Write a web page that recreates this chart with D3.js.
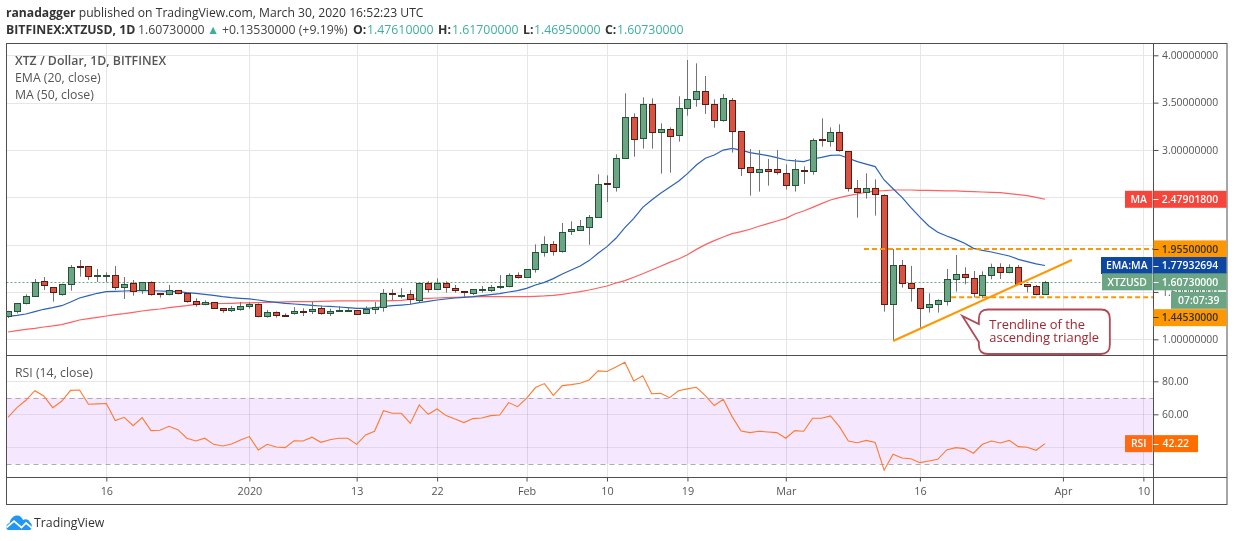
<!DOCTYPE html>
<html>
<head>
<meta charset="utf-8">
<script src="https://cdn.jsdelivr.net/npm/d3@7"></script>
<style>
html, body { margin: 0; padding: 0; background: #fff; }
svg { display: block; font-family: "Open Sans", sans-serif; }
</style>
</head>
<body>
<div id="chart"></div>
<script>
// candles, one per day from 5 Dec 2019
const firstDay = Date.UTC(2019, 11, 5);
const opens = [
  1.239,1.295,1.376,1.454,1.612,1.549,1.475,1.581,1.774,1.771,
  1.672,1.672,1.676,1.549,1.591,1.517,1.602,1.486,1.475,1.517,
  1.486,1.401,1.369,1.391,1.327,1.306,1.317,1.348,1.369,1.243,
  1.285,1.257,1.274,1.299,1.295,1.327,1.274,1.295,1.295,1.306,
  1.274,1.317,1.338,1.486,1.466,1.475,1.408,1.591,1.528,1.591,
  1.538,1.507,1.486,1.528,1.517,1.549,1.560,1.676,1.655,1.739,
  1.919,2.003,1.929,2.141,2.151,2.183,2.288,2.648,2.605,2.912,
  3.345,3.123,3.482,3.186,3.218,3.155,3.440,3.535,3.619,3.482,
  3.310,3.524,3.197,2.817,2.764,2.795,2.795,2.753,2.626,2.785,
  2.774,3.112,3.091,3.186,2.986,2.595,2.553,2.595,2.521,1.370,
  1.782,1.591,1.539,1.334,1.370,1.401,1.634,1.687,1.644,1.465,
  1.676,1.760,1.708,1.760,1.581,1.560,1.4761];
const highs = [
  1.300,1.380,1.475,1.637,1.658,1.549,1.588,1.785,1.838,1.771,
  1.743,1.707,1.774,1.658,1.626,1.602,1.612,1.486,1.574,1.517,
  1.493,1.433,1.412,1.391,1.327,1.352,1.394,1.391,1.380,1.310,
  1.295,1.274,1.341,1.327,1.394,1.359,1.324,1.352,1.341,1.306,
  1.348,1.394,1.531,1.528,1.540,1.521,1.591,1.612,1.644,1.612,
  1.574,1.507,1.528,1.563,1.574,1.679,1.697,1.707,1.739,2.003,
  2.088,2.038,2.229,2.246,2.260,2.313,2.743,2.732,2.954,3.598,
  3.387,3.556,3.545,3.281,3.239,3.567,3.950,3.915,3.781,3.535,
  3.591,3.549,3.197,3.010,2.999,2.905,2.999,2.848,2.905,2.827,
  3.123,3.334,3.239,3.271,2.986,2.683,2.753,2.690,2.532,1.954,
  1.838,1.775,1.539,1.486,1.422,1.743,1.891,1.760,1.722,1.718,
  1.799,1.803,1.792,1.785,1.581,1.574,1.617];
const lows = [
  1.225,1.274,1.369,1.450,1.521,1.398,1.461,1.514,1.662,1.626,
  1.605,1.605,1.521,1.426,1.461,1.479,1.461,1.440,1.464,1.475,
  1.387,1.345,1.359,1.324,1.281,1.288,1.303,1.324,1.232,1.229,
  1.229,1.239,1.260,1.246,1.267,1.260,1.246,1.295,1.295,1.260,
  1.271,1.267,1.292,1.415,1.433,1.362,1.391,1.493,1.528,1.493,
  1.493,1.443,1.468,1.493,1.500,1.531,1.549,1.641,1.655,1.704,
  1.873,1.884,1.915,2.102,2.151,1.999,2.288,2.450,2.560,2.912,
  2.929,3.014,3.014,2.750,2.760,3.088,3.362,3.457,3.380,3.236,
  3.299,2.972,2.725,2.517,2.560,2.623,2.739,2.581,2.560,2.641,
  2.739,3.035,3.035,2.982,2.560,2.285,2.486,2.306,1.292,0.993,
  1.546,1.398,1.116,1.282,1.282,1.356,1.503,1.581,1.444,1.433,
  1.634,1.637,1.697,1.574,1.496,1.465,1.4695];
const closes = [
  1.295,1.380,1.454,1.602,1.570,1.496,1.581,1.760,1.767,1.665,
  1.679,1.679,1.549,1.581,1.507,1.602,1.475,1.472,1.517,1.486,
  1.401,1.369,1.391,1.327,1.306,1.327,1.348,1.369,1.243,1.285,
  1.253,1.250,1.295,1.292,1.317,1.274,1.295,1.306,1.306,1.264,
  1.317,1.338,1.486,1.475,1.473,1.422,1.591,1.528,1.591,1.549,
  1.517,1.493,1.528,1.535,1.549,1.560,1.676,1.655,1.739,1.919,
  2.003,1.929,2.130,2.162,2.193,2.288,2.637,2.634,2.912,3.345,
  3.112,3.482,3.186,3.218,3.144,3.440,3.535,3.619,3.482,3.310,
  3.545,3.197,2.806,2.764,2.795,2.774,2.764,2.626,2.795,2.774,
  3.102,3.102,3.186,2.993,2.595,2.553,2.595,2.532,1.370,1.782,
  1.591,1.539,1.327,1.370,1.412,1.634,1.687,1.655,1.486,1.676,
  1.760,1.708,1.760,1.581,1.560,1.472,1.6073];

const emaValues = [
  1.243,1.253,1.267,1.292,1.317,1.334,1.355,1.394,1.436,1.461,
  1.486,1.503,1.507,1.510,1.514,1.514,1.514,1.510,1.507,1.503,
  1.493,1.486,1.475,1.464,1.450,1.440,1.433,1.426,1.415,1.401,
  1.391,1.380,1.373,1.366,1.359,1.352,1.348,1.341,1.334,1.327,
  1.327,1.331,1.345,1.355,1.362,1.370,1.387,1.401,1.415,1.426,
  1.436,1.443,1.450,1.461,1.472,1.482,1.500,1.514,1.538,1.574,
  1.602,1.641,1.690,1.732,1.774,1.831,1.908,1.979,2.067,2.179,
  2.278,2.394,2.472,2.542,2.605,2.670,2.750,2.841,2.912,2.947,
  2.999,3.017,2.999,2.972,2.957,2.940,2.919,2.894,2.884,2.877,
  2.905,2.922,2.943,2.947,2.912,2.877,2.850,2.824,2.683,2.590,
  2.500,2.390,2.290,2.197,2.130,2.091,2.056,2.014,1.961,1.940,
  1.922,1.901,1.880,1.845,1.820,1.796,1.7793];
const maValues = [
  1.077,1.091,1.105,1.116,1.130,1.141,1.155,1.179,1.204,1.218,
  1.232,1.246,1.260,1.271,1.285,1.299,1.310,1.320,1.334,1.345,
  1.355,1.369,1.375,1.376,1.378,1.380,1.384,1.385,1.389,1.391,
  1.394,1.396,1.398,1.399,1.399,1.401,1.403,1.405,1.405,1.405,
  1.405,1.405,1.405,1.408,1.412,1.422,1.429,1.433,1.436,1.440,
  1.443,1.447,1.447,1.450,1.450,1.450,1.450,1.450,1.450,1.454,
  1.458,1.465,1.475,1.489,1.503,1.521,1.542,1.563,1.595,1.620,
  1.655,1.693,1.732,1.771,1.813,1.848,1.894,1.950,2.000,2.042,
  2.081,2.116,2.137,2.162,2.194,2.222,2.250,2.278,2.324,2.355,
  2.394,2.433,2.472,2.496,2.517,2.535,2.553,2.567,2.570,2.577,
  2.577,2.577,2.574,2.574,2.570,2.567,2.567,2.563,2.560,2.556,
  2.553,2.549,2.539,2.528,2.517,2.500,2.479];
const rsiValues = [
  58.2,64.0,68.5,74.3,71.1,64.0,67.9,74.5,74.7,66.1,
  66.3,66.5,56.2,58.2,53.1,58.0,50.1,50.3,52.7,50.7,
  45.5,43.8,45.5,41.8,40.8,42.0,44.4,46.5,38.4,41.8,
  40.2,39.8,44.0,43.8,46.1,43.0,44.6,45.5,45.5,41.8,
  47.5,49.7,62.2,60.6,60.6,54.5,65.7,60.0,63.2,59.2,
  57.2,55.0,57.4,57.8,59.2,59.6,67.1,64.6,69.7,76.2,
  78.6,71.5,77.4,78.0,78.8,80.8,86.3,85.9,88.7,91.5,
  80.2,83.4,72.5,72.7,70.1,74.3,75.4,76.4,71.3,65.3,
  69.1,58.6,49.9,48.9,49.7,49.3,48.9,45.5,50.1,49.7,
  57.6,57.6,59.0,52.5,43.8,42.8,44.2,43.0,26.1,35.8,
  33.5,33.1,30.7,31.7,32.7,38.4,39.8,39.2,36.4,41.8,
  43.8,42.6,44.2,40.4,40.0,38.2,42.22];

const priceTicks = [1, 1.5, 2, 2.5, 3, 3.5, 4];
const priceLabelTicks = [1, 1.5, 3, 3.5, 4]; // 2.0 and 2.5 sit fully under the price tags
const rsiTicks = [40, 60, 80];
const rsiBand = [30, 70];
const timeTicks = [
  Date.UTC(2019,11,16), Date.UTC(2020,0,1), Date.UTC(2020,0,13), Date.UTC(2020,0,22),
  Date.UTC(2020,1,1), Date.UTC(2020,1,10), Date.UTC(2020,1,19), Date.UTC(2020,2,1),
  Date.UTC(2020,2,16), Date.UTC(2020,3,1), Date.UTC(2020,3,10)];
const timeLabels = ["16","2020","13","22","Feb","10","19","Mar","16","Apr","10"];

// drawings on the chart
const resistance = { from: Date.UTC(2020,2,9,18), to: Date.UTC(2020,3,12), price: 1.955 };
const support = { from: Date.UTC(2020,2,19,12), to: Date.UTC(2020,3,12), price: 1.4453 };
const trendline = [[Date.UTC(2020,2,13), 0.982], [Date.UTC(2020,3,2), 1.838]];
const calloutTip = [Date.UTC(2020,2,20,18), 1.246];
const calloutLines = ["Trendline of the", "ascending triangle"];

const DAY = 86400000;
const candles = opens.map((o, i) => ({
  date: firstDay + i * DAY, o, h: highs[i], l: lows[i], c: closes[i]
}));
const lastDate = candles[candles.length - 1].date;

const UP = "#6ba583", DOWN = "#d75442", UP_DARK = "#225437", DOWN_DARK = "#5b1a13";
const ORANGE = "#ff9800", FRAME = "#4f4f4f", GRID = "#e6e6e6", TEXT = "#555";

const W = 1234, H = 541;
const paneLeft = 6.5, axisX = 1153.5, frameRight = 1227, frameTop = 43.5, frameBottom = 504.5;
const priceBottom = 355.5, rsiBottom = 477.5;

const x = d3.scaleUtc().domain([firstDay, lastDate]).range([8, 8 + 8.94 * (candles.length - 1)]);
const y = d3.scaleLinear().domain([1, 4]).range([339.3, 55.3]);
const yRsi = d3.scaleLinear().domain([40, 80]).range([447.3, 381.3]);

const svg = d3.select("#chart").append("svg").attr("width", W).attr("height", H);

const defs = svg.append("defs");
defs.append("clipPath").attr("id", "clip-price").append("rect")
  .attr("x", paneLeft).attr("y", frameTop).attr("width", axisX - paneLeft).attr("height", priceBottom - frameTop);
defs.append("clipPath").attr("id", "clip-rsi").append("rect")
  .attr("x", paneLeft).attr("y", priceBottom).attr("width", axisX - paneLeft).attr("height", rsiBottom - priceBottom);

// =======================
// header
// =======================
const head = svg.append("g").attr("font-size", 12.3).attr("fill", "#333");
const line1 = head.append("text").attr("x", 6).attr("y", 17).attr("font-size", 12.15);
line1.append("tspan").attr("font-weight", 700).text("ranadagger");
line1.append("tspan").text(" published on TradingView.com, March 30, 2020 16:52:23 UTC");

const TEAL = "#3fae9f";
const headerBits = [
  ["BITFINEX:XTZUSD, 1D", 6, 700, "#333"],
  ["1.60730000", 138, 400, "#444"],
  ["▲", 207, 400, TEAL],
  ["+0.13530000 (+9.19%)", 222, 400, "#444"],
  ["O:", 353, 700, "#333"], ["1.47610000", 367, 400, TEAL],
  ["H:", 438, 700, "#333"], ["1.61700000", 452, 400, TEAL],
  ["L:", 523, 700, "#333"], ["1.46950000", 534, 400, TEAL],
  ["C:", 605, 700, "#333"], ["1.60730000", 617, 400, TEAL]
];
head.selectAll(".bit").data(headerBits).join("text").attr("class", "bit")
  .attr("x", d => d[1]).attr("y", 33.5)
  .attr("font-weight", d => d[2]).attr("fill", d => d[3]).text(d => d[0]);

// =======================
// grid
// =======================
const grid = svg.append("g").attr("stroke", GRID).attr("stroke-width", 1).attr("fill", "none");
const snap = v => Math.round(v) + 0.5;
grid.selectAll(".gp").data(priceTicks).join("line").attr("class", "gp")
  .attr("x1", paneLeft).attr("x2", axisX).attr("y1", d => snap(y(d))).attr("y2", d => snap(y(d)));
grid.selectAll(".gv").data(timeTicks).join("line").attr("class", "gv")
  .attr("x1", d => snap(x(d))).attr("x2", d => snap(x(d))).attr("y1", frameTop).attr("y2", priceBottom);

// rsi pane
const rsiPane = svg.append("g");
rsiPane.append("rect")
  .attr("x", paneLeft).attr("width", axisX - paneLeft)
  .attr("y", yRsi(rsiBand[1])).attr("height", yRsi(rsiBand[0]) - yRsi(rsiBand[1]))
  .attr("fill", "#f4e7fe");
rsiPane.selectAll(".gr").data(rsiTicks).join("line").attr("class", "gr")
  .attr("x1", paneLeft).attr("x2", axisX)
  .attr("y1", d => snap(yRsi(d))).attr("y2", d => snap(yRsi(d)))
  .attr("stroke", d => d === 80 ? GRID : "#e2d6ec");
rsiPane.selectAll(".gv").data(timeTicks).join("line").attr("class", "gv")
  .attr("x1", d => snap(x(d))).attr("x2", d => snap(x(d)))
  .attr("y1", priceBottom).attr("y2", rsiBottom)
  .attr("stroke", GRID).attr("style", "mix-blend-mode:multiply");
rsiPane.selectAll(".band").data(rsiBand).join("line").attr("class", "band")
  .attr("x1", paneLeft).attr("x2", axisX)
  .attr("y1", d => snap(yRsi(d))).attr("y2", d => snap(yRsi(d)))
  .attr("stroke", "#b3a8b5").attr("stroke-dasharray", "5 4");
rsiPane.append("path")
  .attr("clip-path", "url(#clip-rsi)")
  .datum(rsiValues)
  .attr("fill", "none").attr("stroke", "#ff7a30").attr("stroke-width", 1.1)
  .attr("d", d3.line().x((d, i) => x(candles[i].date)).y(d => yRsi(d)));

// =======================
// price pane
// =======================
const price = svg.append("g").attr("clip-path", "url(#clip-price)");

price.append("line")
  .attr("x1", paneLeft).attr("x2", axisX)
  .attr("y1", snap(y(closes[closes.length - 1]))).attr("y2", snap(y(closes[closes.length - 1])))
  .attr("stroke", UP).attr("stroke-dasharray", "2 2");

const lineOf = d3.line().x((d, i) => x(candles[i].date)).y(d => y(d));
price.append("path").datum(maValues).attr("fill", "none").attr("stroke", "#ff6060").attr("stroke-width", 1.2).attr("d", lineOf);
price.append("path").datum(emaValues).attr("fill", "none").attr("stroke", "#2a62b8").attr("stroke-width", 1.2).attr("d", lineOf);

const candle = price.selectAll(".candle").data(candles).join("g").attr("class", "candle");
candle.append("line")
  .attr("x1", d => snap(x(d.date))).attr("x2", d => snap(x(d.date)))
  .attr("y1", d => y(d.h)).attr("y2", d => y(d.l))
  .attr("stroke", "#737375");
candle.append("rect")
  .attr("x", d => Math.round(x(d.date)) - 2.5).attr("width", 6)
  .attr("y", d => Math.round(y(Math.max(d.o, d.c))) + 0.5)
  .attr("height", d => Math.max(1, Math.round(Math.abs(y(d.o) - y(d.c)))))
  .attr("fill", d => d.c >= d.o ? UP : DOWN)
  .attr("stroke", d => d.c >= d.o ? UP_DARK : DOWN_DARK);

// drawings
price.selectAll(".level").data([resistance, support]).join("line").attr("class", "level")
  .attr("x1", d => x(d.from)).attr("x2", d => x(d.to))
  .attr("y1", d => y(d.price)).attr("y2", d => y(d.price))
  .attr("stroke", ORANGE).attr("stroke-width", 2).attr("stroke-dasharray", "5 3");
price.append("line")
  .attr("x1", x(trendline[0][0])).attr("y1", y(trendline[0][1]))
  .attr("x2", x(trendline[1][0])).attr("y2", y(trendline[1][1]))
  .attr("stroke", ORANGE).attr("stroke-width", 2);

// callout
const tipX = x(calloutTip[0]), tipY = y(calloutTip[1]);
const boxL = 16.5, boxR = 147.5, boxT = -6.5, boxB = 38, r = 9;
const callout = svg.append("g").attr("transform", `translate(${tipX},${tipY})`);
callout.append("path")
  .attr("d", `M${boxL + r},${boxT} H${boxR - r} Q${boxR},${boxT} ${boxR},${boxT + r} V${boxB - r} Q${boxR},${boxB} ${boxR - r},${boxB} H${boxL + r} Q${boxL},${boxB} ${boxL},${boxB - r} V26 L0,0 L${boxL},8 V${boxT + r} Q${boxL},${boxT} ${boxL + r},${boxT} Z`)
  .attr("fill", "#fff").attr("stroke", "#b04a55").attr("stroke-width", 1.8);
callout.append("text").attr("font-size", 12.9).attr("fill", "#a3262f")
  .selectAll("tspan").data(calloutLines).join("tspan")
  .attr("x", 27).attr("y", (d, i) => 13 + i * 12.5).text(d => d);

// =======================
// legends
// =======================
const legend = svg.append("g").attr("fill", TEXT).attr("font-size", 12.3);
legend.append("text").attr("x", 15).attr("y", 65).attr("font-weight", 600).text("XTZ / Dollar, 1D, BITFINEX");
legend.append("text").attr("x", 15).attr("y", 82).text("EMA (20, close)");
legend.append("text").attr("x", 15).attr("y", 99).text("MA (50, close)");
legend.append("text").attr("x", 15).attr("y", 377).text("RSI (14, close)");

// =======================
// axes
// =======================
function styleAxis(g) {
  g.select(".domain").remove();
  g.selectAll("line").attr("stroke", FRAME);
  g.selectAll("text").attr("fill", TEXT).attr("font-size", 10.4).attr("font-family", '"Open Sans", sans-serif');
}
svg.append("g").attr("transform", `translate(${axisX},0)`)
  .call(d3.axisRight(y).tickValues(priceLabelTicks).tickFormat(d3.format(".8f")).tickSize(5).tickPadding(3.5))
  .call(styleAxis);
svg.append("g").attr("transform", `translate(${axisX},0)`)
  .call(d3.axisRight(yRsi).tickValues(rsiTicks.slice(1)).tickFormat(d3.format(".2f")).tickSize(5).tickPadding(3.5))
  .call(styleAxis);
svg.append("g").attr("transform", `translate(0,${rsiBottom})`)
  .call(d3.axisBottom(x).tickValues(timeTicks).tickFormat((d, i) => timeLabels[i]).tickSize(4).tickPadding(6))
  .call(styleAxis)
  .call(g => g.selectAll("text").attr("font-size", 10.8));

// frame
const frame = svg.append("g").attr("stroke", FRAME).attr("fill", "none");
frame.append("rect").attr("x", paneLeft).attr("y", frameTop)
  .attr("width", frameRight - paneLeft).attr("height", frameBottom - frameTop);
frame.append("line").attr("x1", axisX).attr("x2", axisX).attr("y1", frameTop).attr("y2", frameBottom);
frame.append("line").attr("x1", paneLeft).attr("x2", frameRight).attr("y1", priceBottom).attr("y2", priceBottom);
frame.append("line").attr("x1", paneLeft).attr("x2", frameRight).attr("y1", rsiBottom).attr("y2", rsiBottom);

// =======================
// price tags
// =======================
function tag(g, cy, x0, x1, fill, label, color) {
  g.append("rect").attr("x", x0).attr("y", cy - 8.5).attr("width", x1 - x0).attr("height", 17).attr("fill", fill);
  g.append("text").attr("x", (x0 + x1) / 2).attr("y", cy + 3.8).attr("text-anchor", "middle")
    .attr("font-size", 10.4).attr("font-weight", 600).attr("fill", color).text(label);
}
function tagTick(g, cy, color) {
  g.append("line").attr("x1", axisX).attr("x2", axisX + 5).attr("y1", snap(cy)).attr("y2", snap(cy)).attr("stroke", color);
}
const tags = svg.append("g");
const tagRows = [
  { v: maValues[maValues.length - 1], name: "MA", nameX: 1125, fill: "#f6453a", text: "2.47901800", color: "#fff" },
  { v: resistance.price, fill: ORANGE, text: "1.95500000", color: "#333" },
  { v: emaValues[emaValues.length - 1], name: "EMA:MA", nameX: 1101, fill: "#0d47a1", text: "1.77932694", color: "#fff" },
  { v: closes[closes.length - 1], name: "XTZUSD", nameX: 1102, fill: UP, text: "1.60730000", color: "#fff" }
];
tagRows.forEach(t => {
  const cy = y(t.v);
  if (t.name) tag(tags, cy, t.nameX, axisX - 1, t.fill, t.name, t.color);
  tag(tags, cy, axisX, 1226.5, t.fill, t.text, t.color);
  tagTick(tags, cy, t.color);
});
// these two sit below their real level because the labels would collide
tag(tags, y(closes[closes.length - 1]) + 18.5, 1171, 1226.5, UP, "07:07:39", "#fff");
tag(tags, y(support.price) + 20.5, axisX, 1226.5, ORANGE, "1.44530000", "#333");
tagTick(tags, y(support.price) + 20, "#333");

const rsiLast = rsiValues[rsiValues.length - 1];
tag(tags, yRsi(rsiLast), 1125, axisX - 1, "#ff6a13", "RSI", "#fff");
tag(tags, yRsi(rsiLast), axisX, 1198, "#ff6d00", d3.format(".2f")(rsiLast), "#fff");
tagTick(tags, yRsi(rsiLast), "#fff");

// =======================
// logo
// =======================
const logo = svg.append("g").attr("transform", "translate(6,515)");
logo.append("path")
  .attr("d", "M2,15 C-0.5,14 -0.5,9 3.5,8 C4.5,3 8,0.5 11,0.5 C14,0.5 16,2.5 17,5 C19.5,3.5 23,4.5 24,7.5 C26.5,8.5 26.5,14 24,15 Z")
  .attr("fill", "#2196f3");
logo.append("path").attr("d", "M0.5,12.5 L8,6 L15.5,12.5 L20,8 L26,13").attr("fill", "none").attr("stroke", "#fff").attr("stroke-width", 1.7);
svg.append("text").attr("x", 34).attr("y", 527).attr("font-size", 12.3).attr("fill", "#333").text("TradingView");
</script>
</body>
</html>
